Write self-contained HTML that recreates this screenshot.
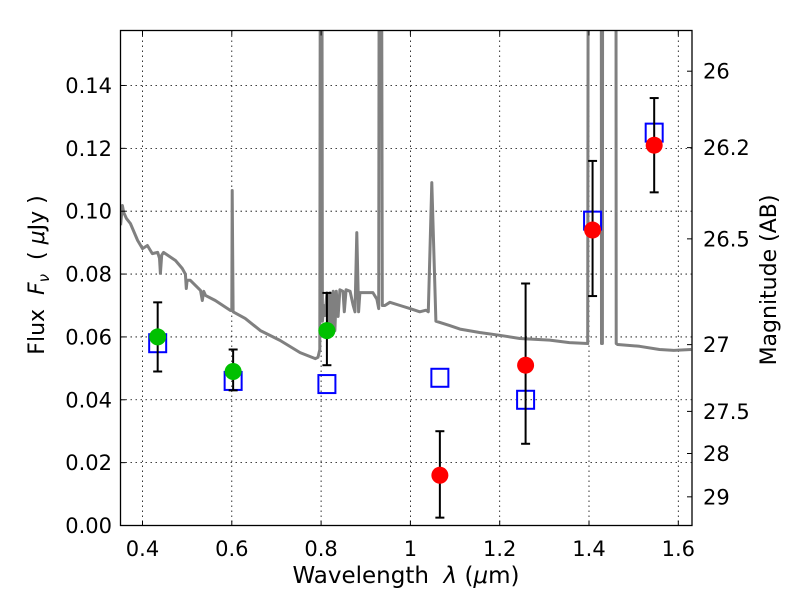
<!DOCTYPE html>
<html><head><meta charset="utf-8"><style>
html,body{margin:0;padding:0;background:#fff;}
svg{display:block;font-family:"DejaVu Sans","Liberation Sans",sans-serif;}
</style></head><body>
<svg id="chart" width="800" height="600" viewBox="0 0 800 600" xmlns="http://www.w3.org/2000/svg">
<defs><clipPath id="plotclip"><rect x="120.5" y="30.5" width="571.5" height="495"/></clipPath></defs>
<rect x="0" y="0" width="800" height="600" fill="#fff"/>
<g id="grid"></g>
<g id="spec" clip-path="url(#plotclip)"></g>
<g id="marks"></g>
<rect x="120.5" y="30.5" width="571.5" height="495" fill="none" stroke="#000" stroke-width="1.3"/>
<g id="axes"></g>
<text x="406" y="583" font-size="23" text-anchor="middle" xml:space="preserve">Wavelength  <tspan font-style="italic">λ</tspan> (<tspan font-style="italic">μ</tspan>m)</text>
<text transform="translate(44,275) rotate(-90)" font-size="22" text-anchor="middle" xml:space="preserve">Flux  <tspan font-style="italic">F</tspan><tspan font-style="italic" font-size="15" dy="5">ν</tspan><tspan dy="-5">  ( </tspan><tspan font-style="italic">μ</tspan>Jy )</text>
<text transform="translate(776,280) rotate(-90)" font-size="22" text-anchor="middle">Magnitude (AB)</text>
</svg>
<script>
const specLam=[0.351,0.355,0.358,0.364,0.373,0.389,0.400,0.411,0.422,0.434,
0.438,0.440,0.443,0.447,0.474,0.489,0.496,0.498,0.500,0.507,
0.530,0.534,0.537,0.541,0.563,0.597,0.600,0.601,0.603,0.630,
0.664,0.708,0.753,0.787,0.793,0.797,0.799,0.801,0.803,0.806,
0.809,0.813,0.817,0.820,0.824,0.827,0.831,0.834,0.838,0.842,
0.849,0.852,0.856,0.865,0.872,0.876,0.880,0.884,0.887,0.916,
0.925,0.929,0.931,0.934,0.937,0.943,0.954,0.977,0.999,1.021,
1.035,1.040,1.048,1.057,1.088,1.111,1.155,1.200,1.245,1.312,
1.356,1.397,1.399,1.427,1.428,1.430,1.431,1.460,1.461,1.464,
1.513,1.558,1.590,1.629];
const specFlux=[0.0955,0.1018,0.0996,0.0977,0.0961,0.0907,0.0881,0.0891,0.0865,0.0869,
0.0850,0.0802,0.0860,0.0869,0.0843,0.0818,0.0800,0.0754,0.0780,0.0780,
0.0748,0.0716,0.0745,0.0732,0.0716,0.0684,0.0684,0.1066,0.0680,0.0659,
0.0620,0.0589,0.0550,0.0531,0.0535,0.0560,0.30,0.30,0.0650,0.0700,
0.0668,0.0740,0.0640,0.0740,0.0640,0.0745,0.0620,0.0745,0.0665,0.0750,
0.0745,0.0680,0.0750,0.0745,0.0700,0.0680,0.0932,0.0680,0.0741,0.0741,
0.0720,0.0690,0.30,0.30,0.0700,0.0700,0.0710,0.0700,0.0690,0.0680,
0.0685,0.0680,0.1091,0.0650,0.0636,0.0625,0.0614,0.0605,0.0595,0.0590,
0.0582,0.0579,0.30,0.30,0.0579,0.0579,0.30,0.30,0.0579,0.0576,
0.0570,0.0560,0.0557,0.0560];
const obsLam=[0.434,0.603,0.813,1.066,1.258,1.408,1.546];
const obsFlux=[0.060,0.049,0.062,0.016,0.051,0.094,0.121];
const obsLo=[0.049,0.043,0.051,0.0025,0.026,0.073,0.106];
const obsHi=[0.071,0.056,0.074,0.030,0.077,0.116,0.136];
const obsColor=["#00c000","#00c000","#00c000","#ff0000","#ff0000","#ff0000","#ff0000"];
const modelFlux=[0.058,0.046,0.045,0.047,0.040,0.097,0.125];
const xTicks=[0.4,0.6,0.8,1.0,1.2,1.4,1.6];
const xTickLabels=["0.4","0.6","0.8","1","1.2","1.4","1.6"];
const yTicks=[0,0.02,0.04,0.06,0.08,0.10,0.12,0.14];
const yTickLabels=["0.00","0.02","0.04","0.06","0.08","0.10","0.12","0.14"];
const magTicks=[26,26.2,26.5,27,27.5,28,29];
const magTickLabels=["26","26.2","26.5","27","27.5","28","29"];

const NS="http://www.w3.org/2000/svg";
const L=120.5,R=692,T=30.5,B=525.5;
function X(l){return 142.5+(l-0.4)*446.5;}
function Y(f){return 525.5-f*3143;}
function mk(tag,attrs,parent){const e=document.createElementNS(NS,tag);for(const k in attrs)e.setAttribute(k,attrs[k]);parent.appendChild(e);return e;}
const grid=document.getElementById('grid'),axes=document.getElementById('axes'),spec=document.getElementById('spec'),marks=document.getElementById('marks');

xTicks.forEach((t,i)=>{const x=X(t);
 const g=mk('line',{x1:x,x2:x,y1:T,y2:B,stroke:'#000','stroke-width':0.8,'stroke-dasharray':'1.5,3.5'},grid);
 
 
 mk('line',{x1:x,x2:x,y1:B,y2:B-5,stroke:'#000'},axes);
 mk('line',{x1:x,x2:x,y1:T,y2:T+5,stroke:'#000'},axes);
 const tx=mk('text',{x:x,y:556,'font-size':21,'text-anchor':'middle'},axes);tx.textContent=xTickLabels[i];
 
 
});
yTicks.forEach((t,i)=>{const y=Y(t);
 if(t>0){const g=mk('line',{x1:L,x2:R,y1:y,y2:y,stroke:'#000','stroke-width':0.8,'stroke-dasharray':'1.5,3.5'},grid);
 
 }
 mk('line',{x1:L,x2:L+5,y1:y,y2:y,stroke:'#000'},axes);
 const tx=mk('text',{x:112,y:y+7.5,'font-size':21,'text-anchor':'end'},axes);tx.textContent=yTickLabels[i];
 
 
});
magTicks.forEach((m,i)=>{const f=Math.pow(10,(23.9-m)/2.5);const y=Y(f);
 mk('line',{x1:R,x2:R-5,y1:y,y2:y,stroke:'#000'},axes);
 const tx=mk('text',{x:703,y:y+7.5,'font-size':21,'text-anchor':'start'},axes);tx.textContent=magTickLabels[i];
 
 
});
let d='';specLam.forEach((l,i)=>{d+=(i?'L':'M')+X(l).toFixed(1)+','+Y(specFlux[i]).toFixed(1);});
const p=mk('path',{d:d,fill:'none',stroke:'#808080','stroke-width':3,'stroke-linejoin':'round'},spec);



obsLam.forEach((l,i)=>{const x=X(l);
 const s=mk('rect',{x:x-8.5,y:Y(modelFlux[i])-9,width:17,height:18,fill:'none',stroke:'#0000ff','stroke-width':2},marks);
 
 
});
obsLam.forEach((l,i)=>{const x=X(l);
 const eb=mk('g',{},marks);
 
 
 mk('line',{x1:x,x2:x,y1:Y(obsLo[i]),y2:Y(obsHi[i]),stroke:'#000','stroke-width':2},eb);
 mk('line',{x1:x-4.5,x2:x+4.5,y1:Y(obsLo[i]),y2:Y(obsLo[i]),stroke:'#000','stroke-width':2},eb);
 mk('line',{x1:x-4.5,x2:x+4.5,y1:Y(obsHi[i]),y2:Y(obsHi[i]),stroke:'#000','stroke-width':2},eb);
 const c=mk('circle',{cx:x,cy:Y(obsFlux[i]),r:8.5,fill:obsColor[i]},marks);
 
 
});
</script>
</body></html>
